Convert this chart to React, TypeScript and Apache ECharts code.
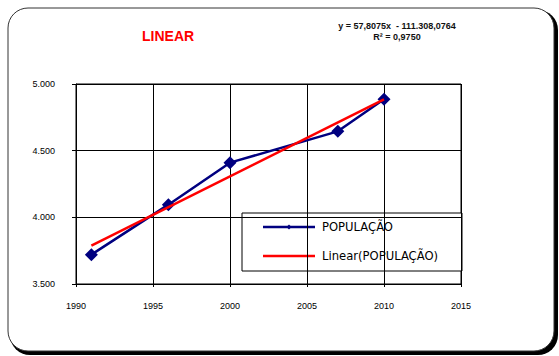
import React, { useEffect, useRef } from "react";
import * as echarts from "echarts";

const years = [1991, 1996, 2000, 2007, 2010];
const populacao = [3720, 4095, 4410, 4645, 4885];
const trendYears = [1991, 2010];
const trendValues = [3787, 4885];
const yTicks = { min: 3500, max: 5000, interval: 500 };
const xTicks = { min: 1990, max: 2015, interval: 5 };
const titleText = "LINEAR";
const equationLine1 = "y = 57,8075x  - 111.308,0764";
const equationLine2 = "R² = 0,9750";
const seriesName = "POPULAÇÃO";
const trendName = "Linear(POPULAÇÃO)";

const BLUE = "#000080";
const RED = "#ff0000";

export default function App() {
  const ref = useRef<HTMLDivElement>(null);
  useEffect(() => {
    if (!ref.current) return;
    const chart = echarts.init(ref.current, undefined, { renderer: "svg" });
    const eqFont = "bold 9px 'Liberation Sans Narrow', 'Liberation Sans', Arial";
    const legFont = "11.6px 'DejaVu Sans', sans-serif";
    chart.setOption({
      animation: false,
      backgroundColor: "#fff",
      graphic: [
        {
          type: "rect",
          z: -10,
          shape: { x: 10, y: 10, width: 548, height: 345, r: 20 },
          style: { fill: "#000" },
        },
        {
          type: "rect",
          z: -9,
          shape: { x: 8, y: 8, width: 546, height: 343, r: 20 },
          style: { fill: "#fff", stroke: "#333", lineWidth: 1 },
        },
        {
          type: "text",
          x: 397,
          y: 26,
          style: { text: equationLine1, fill: "#111", font: eqFont, textAlign: "center", textVerticalAlign: "middle" },
        },
        {
          type: "text",
          x: 397,
          y: 37,
          style: { text: equationLine2, fill: "#111", font: eqFont, textAlign: "center", textVerticalAlign: "middle" },
        },
        {
          type: "group",
          z: 100,
          children: [
            {
              type: "rect",
              shape: { x: 242, y: 213, width: 220, height: 58 },
              style: { fill: "#fff", stroke: "#000", lineWidth: 1 },
            },
            {
              type: "line",
              shape: { x1: 263, y1: 227, x2: 315, y2: 227 },
              style: { stroke: BLUE, lineWidth: 2.5 },
            },
            {
              type: "polygon",
              shape: { points: [[289, 224.5], [291.5, 227], [289, 229.5], [286.5, 227]] },
              style: { fill: BLUE },
            },
            {
              type: "text",
              x: 322,
              y: 227,
              style: { text: seriesName, fill: "#000", font: legFont, textVerticalAlign: "middle" },
            },
            {
              type: "line",
              shape: { x1: 263, y1: 256, x2: 315, y2: 256 },
              style: { stroke: RED, lineWidth: 2.5 },
            },
            {
              type: "text",
              x: 322,
              y: 256,
              style: { text: trendName, fill: "#000", font: legFont, textVerticalAlign: "middle" },
            },
          ],
        },
      ],
      title: {
        text: titleText,
        left: 142,
        top: 29,
        padding: 0,
        textStyle: {
          color: RED,
          fontWeight: "bold",
          fontSize: 14,
          fontFamily: "'Liberation Sans', Arial",
        },
      },
      grid: {
        left: 76,
        top: 84,
        width: 385,
        height: 200,
        show: true,
        backgroundColor: "#fff",
        borderColor: "#000",
        borderWidth: 1,
      },
      xAxis: {
        type: "value",
        min: xTicks.min,
        max: xTicks.max,
        interval: xTicks.interval,
        axisLine: { show: true, lineStyle: { color: "#000", width: 1 } },
        axisTick: { show: true, length: 3, lineStyle: { color: "#000" } },
        splitLine: { show: true, lineStyle: { color: "#000", width: 1 } },
        axisLabel: {
          margin: 17,
          fontSize: 9,
          fontFamily: "'Liberation Sans', Arial",
          color: "#000",
          formatter: (v: number) => String(v),
        },
      },
      yAxis: {
        type: "value",
        min: yTicks.min,
        max: yTicks.max,
        interval: yTicks.interval,
        axisLine: { show: true, lineStyle: { color: "#000", width: 1 } },
        axisTick: { show: true, length: 4, lineStyle: { color: "#000" } },
        splitLine: { show: true, lineStyle: { color: "#000", width: 1 } },
        axisLabel: {
          margin: 21,
          fontSize: 9,
          fontFamily: "'Liberation Sans', Arial",
          color: "#000",
          formatter: (v: number) => v.toLocaleString("pt-BR").replace(/\s/g, "."),
        },
      },
      series: [
        {
          name: seriesName,
          type: "line",
          data: years.map((y, i) => [y, populacao[i]]),
          symbol: "diamond",
          symbolSize: 13,
          lineStyle: { color: BLUE, width: 2.5 },
          itemStyle: { color: BLUE },
          z: 3,
        },
        {
          name: trendName,
          type: "line",
          data: trendYears.map((y, i) => [y, trendValues[i]]),
          symbol: "none",
          lineStyle: { color: RED, width: 2.5 },
          itemStyle: { color: RED },
          z: 4,
        },
      ],
    });
    return () => chart.dispose();
  }, []);
  return (
    <div
      ref={ref}
      style={{ position: "fixed", left: 0, top: 0, width: 559, height: 356 }}
    />
  );
}
